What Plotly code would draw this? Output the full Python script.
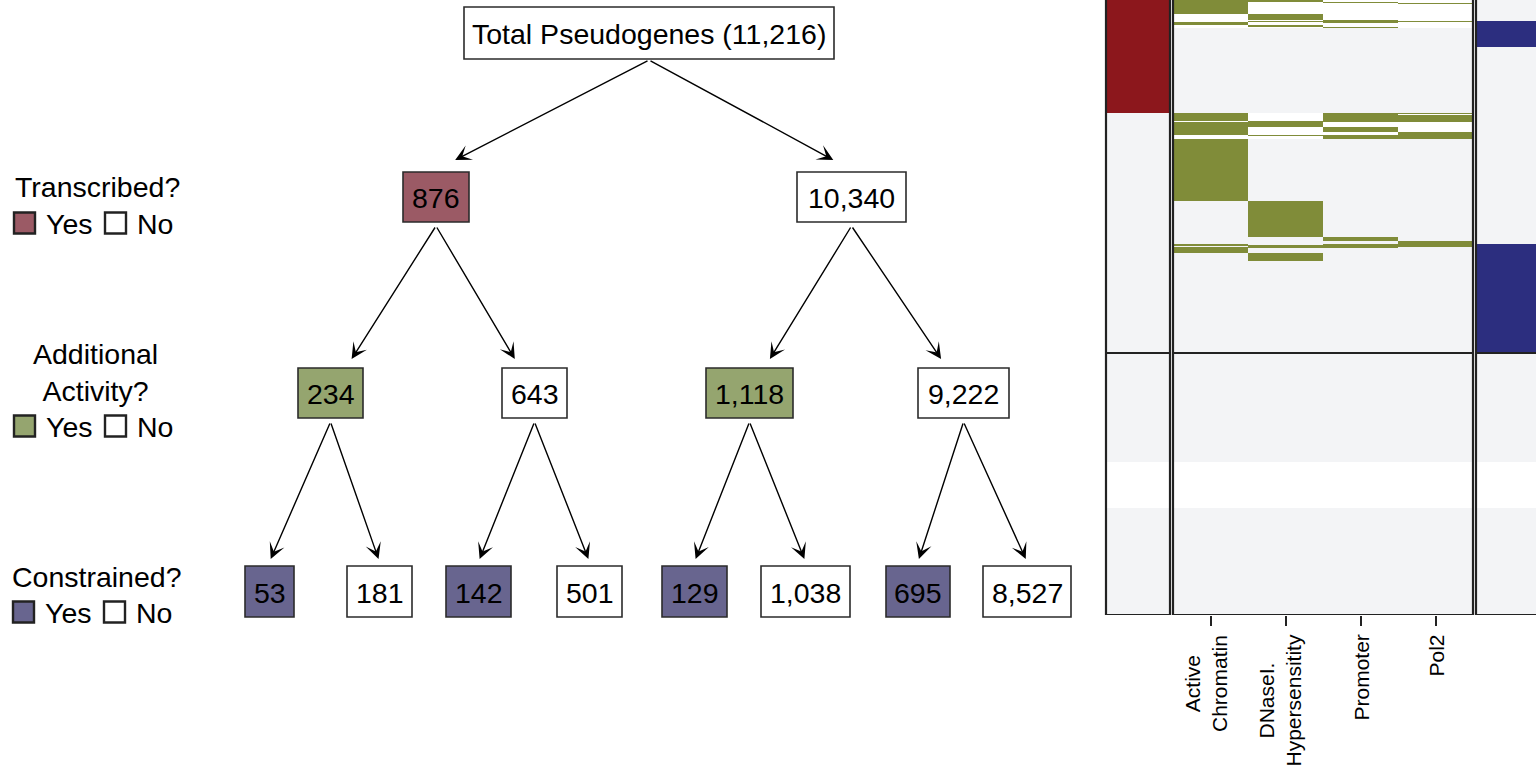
import plotly.graph_objects as go

W, H = 1536, 773
FONT = "Liberation Sans, Arial, Helvetica, sans-serif"

# ---------------- data: decision tree ----------------
ROOT_LABEL = "Total Pseudogenes"
ROOT_TOTAL = 11216
LEVEL1_COUNTS = [876, 10340]
LEVEL2_COUNTS = [234, 643, 1118, 9222]
LEVEL3_COUNTS = [53, 181, 142, 501, 129, 1038, 695, 8527]
LEVEL_QUESTIONS = ["Transcribed?", "Additional<br>Activity?", "Constrained?"]
YES_NO = ["Yes", "No"]

# ---------------- data: heatmap (row index ranges flagged "yes") ----------------
TRANSCRIBED_COLS = ["Transcribed"]
TRANSCRIBED_YES = [[(0, 113)]]
ACTIVITY_COLS = ["Active<br>Chromatin", "DNaseI.<br>Hypersensitity", "Promoter", "Pol2"]
ACTIVITY_YES = [
    [(0, 14), (22, 25), (113, 121), (122, 135), (139, 201), (244, 246), (247, 253)],
    [(0, 2), (14, 20), (21, 22), (25, 27), (121, 127), (135, 136), (201, 237), (245, 248), (253, 261)],
    [(2, 3), (20, 23), (27, 28), (113, 122), (127, 132), (135, 139), (237, 241), (244, 248)],
    [(3, 4), (21, 22), (113, 114), (115, 122), (132, 139), (241, 247)],
]
CONSTRAINED_COLS = ["Constrained"]
CONSTRAINED_YES = [[(21, 47), (244, 352)]]
ROW_GROUPS = [(0, 352), (354, 615)]          # two row groups
UNSCORED_ROWS = [(352, 354), (462, 508)]     # blank rows
ACTIVE_ROW_BLOCKS = [(0, 28), (113, 139)]    # rows with partial activity (white gaps)

# ---------------- style / layout ----------------
C_RED_BOX, C_GREEN_BOX, C_BLUE_BOX = "#9b5a65", "#95a56f", "#68658f"
C_RED, C_GREEN, C_BLUE = "#8c171c", "#808c39", "#2c2e7f"
C_BG, C_LINE = "#f3f4f6", "#222222"
LEVEL_COLORS = [C_RED_BOX, C_GREEN_BOX, C_BLUE_BOX]

ROOT_BOX = dict(cx=649, w=370, top=7, bottom=59)
LEVEL_TOP = [172, 368, 566]
LEVEL_BOTTOM = [222, 418, 617]
LEVEL_CX = [[436, 851.5],
            [330.5, 534.5, 749.5, 963.5],
            [269.5, 379.5, 478.5, 589.5, 694.5, 805.5, 918, 1027]]
LEVEL_W = [[66, 109], [65, 65, 87, 91], [49, 65, 65, 65, 65, 89, 64, 88]]
ARROW_PULL = [0.09, 0.2, 0.02]
ARROW_GAP = [12, 9, 7]

fig = go.Figure()
shapes, annos = [], []


def box(cx, w, top, bottom, fill, text):
    shapes.append(dict(type="rect", xref="x", yref="y", x0=cx - w / 2, x1=cx + w / 2,
                       y0=top, y1=bottom, fillcolor=fill,
                       line=dict(color="#2b2b2b", width=1.6), layer="above"))
    annos.append(dict(x=cx, y=(top + bottom) / 2 + 1, xref="x", yref="y", text=text,
                      showarrow=False, font=dict(size=28.5, color="black", family=FONT)))


def arrow(x0, y0, x1, y1):
    annos.append(dict(x=x1, y=y1, ax=x0, ay=y0, xref="x", yref="y", axref="x", ayref="y",
                      text="", showarrow=True, arrowhead=3, arrowsize=1.9,
                      arrowwidth=1.4, arrowcolor="black", standoff=0, startstandoff=0))


# root
box(ROOT_BOX["cx"], ROOT_BOX["w"], ROOT_BOX["top"], ROOT_BOX["bottom"], "white",
    f"{ROOT_LABEL} ({ROOT_TOTAL:,})")

levels = [LEVEL1_COUNTS, LEVEL2_COUNTS, LEVEL3_COUNTS]
parent_cx = [ROOT_BOX["cx"]]
parent_bottom = ROOT_BOX["bottom"]
for li, counts in enumerate(levels):
    for ni, val in enumerate(counts):
        cx = LEVEL_CX[li][ni]
        fill = LEVEL_COLORS[li] if ni % 2 == 0 else "white"
        box(cx, LEVEL_W[li][ni], LEVEL_TOP[li], LEVEL_BOTTOM[li], fill, f"{val:,}")
        pcx = parent_cx[ni // 2]
        tipx = cx + (pcx - cx) * ARROW_PULL[li]
        arrow(pcx, parent_bottom + (1 if li == 0 else 4), tipx, LEVEL_TOP[li] - ARROW_GAP[li])
    parent_cx = LEVEL_CX[li]
    parent_bottom = LEVEL_BOTTOM[li]

# left-hand legend
Q_POS = [dict(x=13, y=187, xanchor="left", align="left"),
         dict(x=95, y=372, xanchor="center", align="center"),
         dict(x=10, y=577, xanchor="left", align="left")]
YN_Y = [223, 426, 612]
SQ_X = [(14, 105), (14, 105), (13, 104)]
for qi, q in enumerate(LEVEL_QUESTIONS):
    p = Q_POS[qi]
    annos.append(dict(x=p["x"], y=p["y"], xref="x", yref="y", text=q, showarrow=False,
                      xanchor=p["xanchor"], align=p["align"],
                      font=dict(size=28.5, color="black", family=FONT)))
    y = YN_Y[qi]
    for k, lab in enumerate(YES_NO):
        sx = SQ_X[qi][k]
        shapes.append(dict(type="rect", xref="x", yref="y", x0=sx, x1=sx + 21, y0=y - 10.5, y1=y + 10.5,
                           fillcolor=LEVEL_COLORS[qi] if k == 0 else "white",
                           line=dict(color="#222222", width=2.4)))
        annos.append(dict(x=sx + 30, y=y + 1, xref="x", yref="y", text=lab, showarrow=False,
                          xanchor="left", font=dict(size=28.5, color="black", family=FONT)))

fig.add_trace(go.Scatter(x=[0], y=[0], mode="markers", marker=dict(opacity=0),
                         hoverinfo="skip", showlegend=False))


# ---------------- heatmaps ----------------
def in_any(v, segs):
    return any(s <= v < e for s, e in segs)


def build_z(col_segments, white_blocks):
    edges = {0, 615}
    for a, b in ROW_GROUPS + UNSCORED_ROWS + white_blocks:
        edges.update([a, b])
    for segs in col_segments:
        for a, b in segs:
            edges.update([a, b])
    edges = sorted(edges)
    z = []
    for i in range(len(edges) - 1):
        mid = (edges[i] + edges[i + 1]) / 2
        row = []
        for segs in col_segments:
            if in_any(mid, segs):
                row.append(1)
            elif in_any(mid, UNSCORED_ROWS) or in_any(mid, white_blocks):
                row.append(2)
            else:
                row.append(0)
        z.append(row)
    return edges, z


def cscale(col):
    return [[0, C_BG], [0.333, C_BG], [0.334, col], [0.666, col], [0.667, "white"], [1, "white"]]


panels = [
    ("x2", TRANSCRIBED_COLS, TRANSCRIBED_YES, C_RED, []),
    ("x3", ACTIVITY_COLS, ACTIVITY_YES, C_GREEN, ACTIVE_ROW_BLOCKS),
    ("x4", CONSTRAINED_COLS, CONSTRAINED_YES, C_BLUE, []),
]
for xa, cols, segs, col, wb in panels:
    edges, z = build_z(segs, wb)
    fig.add_trace(go.Heatmap(x=list(range(len(cols))), y=edges, z=z, xaxis=xa, yaxis="y2",
                             zmin=0, zmax=2, colorscale=cscale(col), showscale=False,
                             hoverinfo="skip"))

# panel borders
for xa, right in [("x2", True), ("x3", True), ("x4", False)]:
    sides = [0, 1] if right else [0]
    for sx in sides:
        shapes.append(dict(type="line", xref=f"{xa} domain", yref="y2", x0=sx, x1=sx, y0=0, y1=615,
                           line=dict(color=C_LINE, width=2.2), layer="above"))
    for yy in [353, 615]:
        shapes.append(dict(type="line", xref=f"{xa} domain", yref="y2", x0=0, x1=1, y0=yy, y1=yy,
                           line=dict(color=C_LINE, width=2.2), layer="above"))

# activity labels
LABEL_SHIFT = [-5, -6, 0, 0]
for i, lab in enumerate(ACTIVITY_COLS):
    annos.append(dict(x=i, y=1 - 633 / H, xref="x3", yref="paper", text=lab, textangle=-90,
                      showarrow=False, xanchor="center", yanchor="top", align="center",
                      xshift=LABEL_SHIFT[i],
                      font=dict(size=21, color="black", family=FONT)))

yd = [1 - 615 / H, 1]
fig.update_layout(
    width=W, height=H, margin=dict(l=0, r=0, t=0, b=0),
    paper_bgcolor="white", plot_bgcolor="rgba(0,0,0,0)",
    xaxis=dict(domain=[0, 1], range=[0, W], visible=False, fixedrange=True),
    yaxis=dict(domain=[0, 1], range=[H, 0], visible=False, fixedrange=True),
    xaxis2=dict(domain=[1106 / W, 1170 / W], anchor="y2", range=[-0.5, 0.5],
                showticklabels=False, ticks="", showgrid=False, zeroline=False),
    xaxis3=dict(domain=[1173 / W, 1473 / W], anchor="y2", range=[-0.5, 3.5],
                tickmode="array", tickvals=[0, 1, 2, 3], ticks="outside", ticklen=10,
                tickwidth=2, tickcolor=C_LINE, showticklabels=False, showgrid=False, zeroline=False),
    xaxis4=dict(domain=[1476 / W, 1], anchor="y2", range=[-0.5, 0.44],
                showticklabels=False, ticks="", showgrid=False, zeroline=False),
    yaxis2=dict(domain=yd, anchor="x2", range=[615, 0], visible=False, showgrid=False),
    shapes=shapes, annotations=annos, showlegend=False,
)

fig.write_html("out.html", config={"displayModeBar": False},
               post_script="document.body.style.margin='0px';document.body.style.overflow='hidden';")
